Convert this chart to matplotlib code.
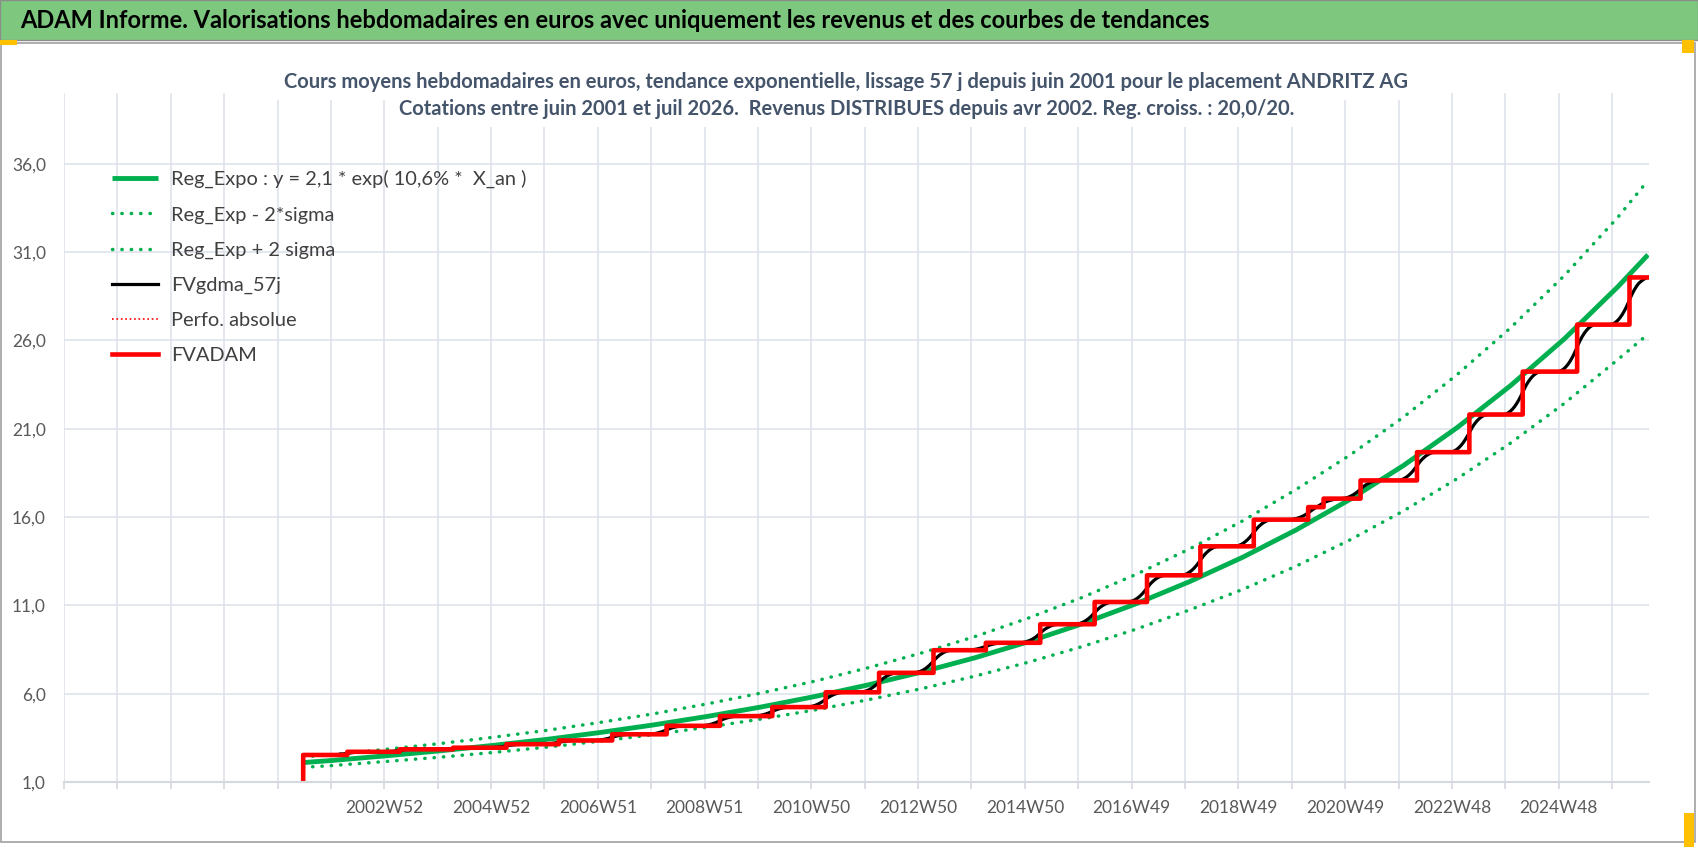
import matplotlib
matplotlib.use("Agg")
import matplotlib.pyplot as plt
from matplotlib.patches import Rectangle
import numpy as np
import pandas as pd

# weekly categories of the sheet (one category per week)
first_week = "1996-12-30"
last_week = "2026-07-27"

# FVADAM : value after each distributed income (read on the chart)
step_dates = ["2001-06-11", "2001-06-18", "2002-04-15", "2003-04-07", "2004-04-05",
              "2005-04-04", "2006-03-27", "2007-03-26", "2008-03-31", "2009-03-30",
              "2010-03-22", "2011-03-21", "2012-03-19", "2013-03-25", "2014-03-17",
              "2015-03-23", "2016-03-28", "2017-03-20", "2018-03-19", "2019-03-18",
              "2020-03-23", "2020-07-06", "2021-03-15", "2022-04-04", "2023-03-27",
              "2024-03-25", "2025-03-31", "2026-03-23"]
step_values = [0.0, 2.53, 2.71, 2.85, 2.94,
               3.14, 3.35, 3.70, 4.18, 4.73,
               5.24, 6.08, 7.18, 8.46, 8.88,
               9.93, 11.19, 12.70, 14.34, 15.85,
               16.56, 17.04, 18.07, 19.67, 21.80,
               24.23, 26.89, 29.56]

# exponential trend and +/- 2 sigma band, read once a year
trend_dates = ["2001-06-18"] + [f"{y}-01-01" for y in range(2002, 2027)] + ["2026-07-27"]
trend_values = [2.10, 2.22, 2.48, 2.76, 3.07, 3.41, 3.80, 4.23, 4.71, 5.24,
                5.83, 6.49, 7.22, 8.03, 8.94, 9.95, 11.08, 12.33, 13.72, 15.27,
                16.99, 18.91, 21.05, 23.43, 26.07, 29.02, 30.84]
upper_values = [2.42, 2.55, 2.85, 3.17, 3.53, 3.92, 4.37, 4.86, 5.42, 6.03,
                6.70, 7.46, 8.30, 9.23, 10.28, 11.44, 12.74, 14.18, 15.78, 17.56,
                19.50, 21.65, 24.05, 26.70, 29.65, 32.95, 35.05]
lower_values = [1.83, 1.93, 2.16, 2.40, 2.67, 2.97, 3.31, 3.68, 4.10, 4.56,
                5.07, 5.65, 6.28, 6.99, 7.78, 8.66, 9.64, 10.73, 11.90, 13.22,
                14.70, 16.34, 18.16, 20.18, 22.42, 24.90, 26.35]

x_labels = ["2002W52", "2004W52", "2006W51", "2008W51", "2010W50", "2012W50",
            "2014W50", "2016W49", "2018W49", "2020W49", "2022W48", "2024W48"]
y_ticks = [1, 6, 11, 16, 21, 26, 31, 36]

legend_labels = ["Reg_Expo : y = 2,1 * exp( 10,6% *  X_an )", "Reg_Exp - 2*sigma",
                 "Reg_Exp + 2 sigma", "FVgdma_57j", "Perfo. absolue", "FVADAM"]

title = ("ADAM Informe. Valorisations hebdomadaires en euros avec uniquement "
         "les revenus et des courbes de tendances")
subtitle1 = ("Cours moyens hebdomadaires en euros, tendance exponentielle, lissage 57 j "
             "depuis juin 2001 pour le placement ANDRITZ AG")
subtitle2 = ("Cotations entre juin 2001 et juil 2026.  Revenus DISTRIBUES depuis avr 2002. "
             "Reg. croiss. : 20,0/20.")

plt.rcParams["font.family"] = ["Lato", "DejaVu Sans"]

weeks = pd.date_range(first_week, last_week, freq="W-MON")
week_pos = np.arange(len(weeks))
start = pd.Timestamp(first_week)

fvadam = (pd.Series(step_values, index=pd.to_datetime(step_dates))
          .reindex(weeks, method="ffill"))
held = fvadam > 0
# 57 day smoothing of the valuation (two passes give the S shaped transitions)
fvgdma = (fvadam.where(held).rolling(19, center=True, min_periods=1).mean()
          .rolling(19, center=True, min_periods=1).mean().where(held))
trend_x = [(pd.Timestamp(d) - start).days / 7 for d in trend_dates]

fig = plt.figure(figsize=(16.98, 8.48), dpi=100)
W, H = 1698, 848

# header band and chart frame (behind the axes)
fig.patches.append(Rectangle((0, 1 - 40 / H), 1, 40 / H, transform=fig.transFigure,
                             facecolor="#7DC87E", edgecolor="#8C8C8C", lw=1, zorder=-5))
fig.patches.append(Rectangle((1 / W, 6 / H), 1694 / W, (845 - 46) / H,
                             transform=fig.transFigure, facecolor="white",
                             edgecolor="#A0A0A0", lw=1.2, zorder=-5))
fig.patches.append(Rectangle((0, 1 - 45 / H), 17 / W, 5 / H, transform=fig.transFigure,
                             facecolor="#FFC000", edgecolor="none", zorder=-4))
fig.patches.append(Rectangle((1682 / W, 1 - 53 / H), 12 / W, 13 / H,
                             transform=fig.transFigure, facecolor="#FFC000",
                             edgecolor="none", zorder=-4))
fig.patches.append(Rectangle((1684 / W, 1 / H), 10 / W, 34 / H,
                             transform=fig.transFigure, facecolor="#FFC000",
                             edgecolor="none", zorder=-4))
fig.text(20 / W, 1 - 21 / H, title, fontsize=17, fontweight="bold", color="black",
         va="center", ha="left")

ax = fig.add_axes([64 / W, 1 - 782 / H, (1649 - 64) / W, (782 - 93) / H])
ax.set_facecolor("none")

ax.plot(trend_x, trend_values, color="#00B050", lw=3.5, solid_capstyle="butt",
        label=legend_labels[0])
ax.plot(trend_x, lower_values, color="#00B050", lw=2.5, ls=(0, (0.1, 2.6)),
        dash_capstyle="round", label=legend_labels[1])
ax.plot(trend_x, upper_values, color="#00B050", lw=2.5, ls=(0, (0.1, 2.6)),
        dash_capstyle="round", label=legend_labels[2])
ax.plot(week_pos, fvgdma.values, color="black", lw=2.3, label=legend_labels[3])
ax.plot(week_pos, fvadam.values, color="#FF0000", lw=1.2, ls=":", label=legend_labels[4])
ax.plot(week_pos, fvadam.values, color="#FF0000", lw=3.3, drawstyle="steps-post",
        label=legend_labels[5])

ax.set_xlim(0, len(weeks))
ax.set_ylim(1, 40)
ax.set_yticks(y_ticks)
ax.set_yticklabels([f"{v:.1f}".replace(".", ",") for v in y_ticks])

iso = [f"{d.isocalendar()[0]}W{d.isocalendar()[1]}" for d in weeks]
grid_pos = np.arange(0, len(weeks), 52)
ax.set_xticks(grid_pos)
ax.set_xticklabels([iso[p] if iso[p] in x_labels else "" for p in grid_pos])

ax.grid(True, color="#DEE3EB", lw=1.2)
ax.set_axisbelow(True)
for side in ["top", "right", "left"]:
    ax.spines[side].set_visible(False)
ax.spines["bottom"].set_color("#D4D8DF")
ax.spines["bottom"].set_linewidth(1.5)
ax.tick_params(axis="y", length=0, pad=13, labelsize=12.5, labelcolor="#595959")
ax.tick_params(axis="x", length=5, width=1.2, color="#D4D8DF", pad=8,
               labelsize=12.5, labelcolor="#595959")

# subtitle drawn over the plot with a white box, as in the sheet
fig.text(846 / W, 1 - 82 / H, subtitle1, fontsize=14.5, fontweight="bold", color="#44546A",
         ha="center", va="center",
         bbox=dict(facecolor="white", edgecolor="none", pad=6))
fig.text(847 / W, 1 - 109 / H, subtitle2, fontsize=14.5, fontweight="bold", color="#44546A",
         ha="center", va="center",
         bbox=dict(facecolor="white", edgecolor="none", pad=6))

leg = ax.legend(loc="upper left", bbox_to_anchor=(48 / (1649 - 64), 1 - 77 / (782 - 93)),
                frameon=False, fontsize=14.4, handlelength=2.3, handletextpad=0.65,
                labelspacing=0.9, borderpad=0, borderaxespad=0)
for t in leg.get_texts():
    t.set_color("#404040")

fig.savefig("out.png", dpi=100)
